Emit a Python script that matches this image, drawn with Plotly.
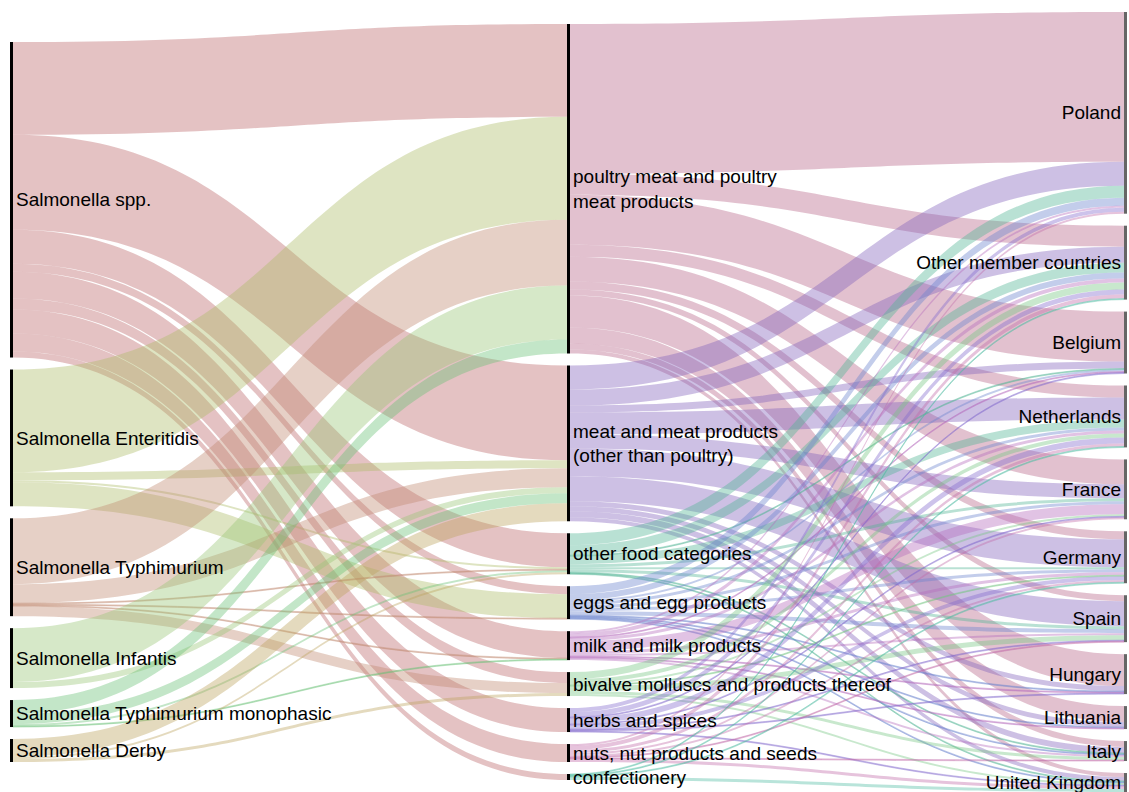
import plotly.graph_objects as go

serotypes = ["Salmonella spp.", "Salmonella Enteritidis", "Salmonella Typhimurium",
             "Salmonella Infantis", "Salmonella Typhimurium monophasic", "Salmonella Derby"]
foods = ["poultry meat and poultry<br>meat products",
         "meat and meat products<br>(other than poultry)",
         "other food categories", "eggs and egg products", "milk and milk products",
         "bivalve molluscs and products thereof", "herbs and spices",
         "nuts, nut products and seeds", "confectionery"]
countries = ["Poland", "Other member countries", "Belgium", "Netherlands", "France",
             "Germany", "Spain", "Hungary", "Lithuania", "Italy", "United Kingdom"]

# serotype -> food category (rows: serotypes, cols: foods)
sero_food = [
    [93, 95, 34, 8, 27, 11, 24, 18, 6],
    [103, 8, 2, 24, 0, 0, 0, 0, 0],
    [66, 19, 1, 1, 1, 10, 0, 0, 0],
    [54, 6, 0, 0, 0, 0, 0, 0, 0],
    [14, 10, 2, 0, 1, 0, 0, 0, 0],
    [0, 18, 2, 0, 0, 3, 0, 0, 0],
]
# food category -> notifying country (rows: foods, cols: countries)
food_country = [
    [150, 21, 50, 12, 25, 8, 6, 32, 16, 6, 4],
    [24, 16, 7, 22, 14, 28, 25, 5, 5, 6, 4],
    [12, 10, 1, 8, 3, 2, 3, 0, 0, 1, 1],
    [8, 6, 2, 3, 3, 3, 4, 1, 1, 1, 1],
    [2, 4, 1, 3, 10, 3, 2, 1, 1, 2, 0],
    [0, 7, 0, 4, 2, 1, 5, 0, 0, 3, 2],
    [4, 5, 1, 6, 1, 4, 1, 1, 0, 0, 1],
    [2, 4, 0, 3, 2, 2, 1, 0, 0, 1, 3],
    [0, 1, 0, 1, 0, 1, 0, 0, 0, 0, 3],
]

sero_colors = ["rgba(187,103,105,0.4)", "rgba(172,187,102,0.4)", "rgba(192,137,112,0.4)",
               "rgba(152,197,117,0.4)", "rgba(105,192,117,0.4)", "rgba(187,162,92,0.4)"]
food_colors = ["rgba(182,100,135,0.4)", "rgba(130,97,187,0.4)", "rgba(80,180,147,0.4)",
               "rgba(105,130,205,0.4)", "rgba(180,105,187,0.4)", "rgba(117,197,130,0.4)",
               "rgba(130,105,205,0.4)", "rgba(192,105,167,0.4)", "rgba(80,187,162,0.4)"]

W, H = 1129, 792
M = dict(l=10, r=2, t=12, b=0)
PAD, THICK = 12, 3
plot_w = W - M["l"] - M["r"]
plot_h = H - M["t"] - M["b"]

labels = serotypes + foods + countries
n_s, n_f, n_c = len(serotypes), len(foods), len(countries)

src, tgt, val, col = [], [], [], []
for i, row in enumerate(sero_food):
    for j, v in enumerate(row):
        if v > 0:
            src.append(i); tgt.append(n_s + j); val.append(v); col.append(sero_colors[i])
for i, row in enumerate(food_country):
    for j, v in enumerate(row):
        if v > 0:
            src.append(n_s + i); tgt.append(n_s + n_f + j); val.append(v); col.append(food_colors[i])

# node sizes (max of in/out flow), used to keep the reference order, columns centred
sero_tot = [sum(r) for r in sero_food]
food_tot = [max(sum(sero_food[k][j] for k in range(n_s)), sum(food_country[j])) for j in range(n_f)]
ctry_tot = [sum(food_country[k][j] for k in range(n_f)) for j in range(n_c)]
columns = [sero_tot, food_tot, ctry_tot]
ky = min((plot_h - (len(c) - 1) * PAD) / sum(c) for c in columns)

node_x, node_y = [], []
col_x = [THICK / 2 / plot_w, 0.5, 1 - THICK / 2 / plot_w]
for ci, c in enumerate(columns):
    span = sum(c) * ky + (len(c) - 1) * PAD
    y = (plot_h - span) / 2
    for v in c:
        h = v * ky
        node_x.append(col_x[ci])
        node_y.append(max((y + h / 2) / plot_h, 1e-4))
        y += h + PAD

node_colors = ["#000000"] * (n_s + n_f) + ["#666666"] * n_c

fig = go.Figure(go.Sankey(
    arrangement="snap",
    node=dict(label=labels, color=node_colors, thickness=THICK, pad=PAD,
              line=dict(width=0), x=node_x, y=node_y),
    link=dict(source=src, target=tgt, value=val, color=col),
    textfont=dict(family="Arial", size=19, color="#000000", shadow="none"),
))
fig.update_layout(width=W, height=H, margin=M,
                  paper_bgcolor="white", font=dict(family="Arial"))
fig.write_html("out.html", config={"displayModeBar": False},
               post_script="document.body.style.margin='0';document.body.style.overflow='hidden';")
